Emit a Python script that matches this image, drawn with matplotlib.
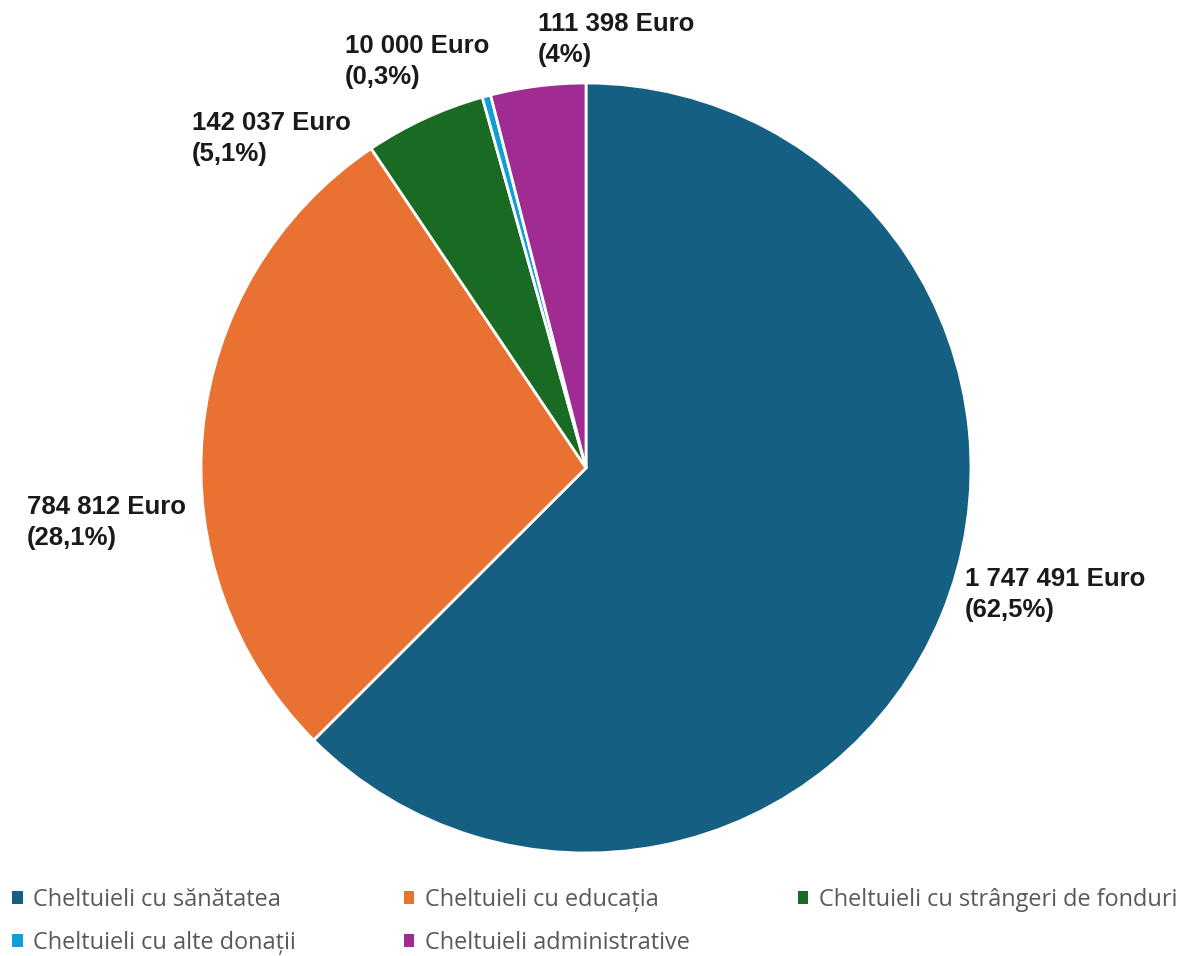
import matplotlib
matplotlib.use("Agg")
import matplotlib.pyplot as plt
from matplotlib.patches import Patch

categories = ["Cheltuieli cu sănătatea", "Cheltuieli cu educația",
              "Cheltuieli cu strângeri de fonduri", "Cheltuieli cu alte donații",
              "Cheltuieli administrative"]
values = [1747491, 784812, 142037, 10000, 111398]
value_labels = ["1 747 491 Euro\n(62,5%)", "784 812 Euro\n(28,1%)",
                "142 037 Euro\n(5,1%)", "10 000 Euro\n(0,3%)", "111 398 Euro\n(4%)"]
colors = ["#156082", "#E97132", "#196B24", "#0F9ED5", "#A02B93"]

W, H = 1180, 956
fig = plt.figure(figsize=(W / 100, H / 100), dpi=100)
fig.patch.set_facecolor("white")

cx, cy, r = 586, 468, 385
ax = fig.add_axes([(cx - r) / W, (H - cy - r) / H, 2 * r / W, 2 * r / H])
ax.pie(values, colors=colors, startangle=90, counterclock=False, radius=1,
       wedgeprops=dict(edgecolor="white", linewidth=2))
ax.set_xlim(-1, 1)
ax.set_ylim(-1, 1)
ax.set_aspect("equal")
ax.axis("off")

# label anchor positions (pixels, top-left of text block)
label_pos = [(965, 567), (27, 495), (192, 111), (345, 34), (538, 12)]
for txt, (px, py) in zip(value_labels, label_pos):
    fig.text(px / W, 1 - py / H, txt, ha="left", va="top", fontsize=18.5,
             fontweight="bold", family=["Liberation Sans", "DejaVu Sans"],
             color="#1a1a1a", linespacing=1.38)

order = [0, 3, 1, 4, 2]
handles = [Patch(facecolor=colors[i], edgecolor="none") for i in order]
labels = [categories[i] for i in order]
leg = fig.legend(handles, labels, ncol=3, loc="upper left",
                 bbox_to_anchor=(12 / W, 1 - 888 / H), frameon=False,
                 borderpad=0, borderaxespad=0,
                 prop=dict(family=["Open Sans", "DejaVu Sans"], size=16.9),
                 handlelength=0.45, handleheight=0.45, handletextpad=0.45,
                 columnspacing=4.6, labelspacing=0.8, labelcolor="#595959")

fig.savefig("out.png", dpi=100, facecolor="white")
